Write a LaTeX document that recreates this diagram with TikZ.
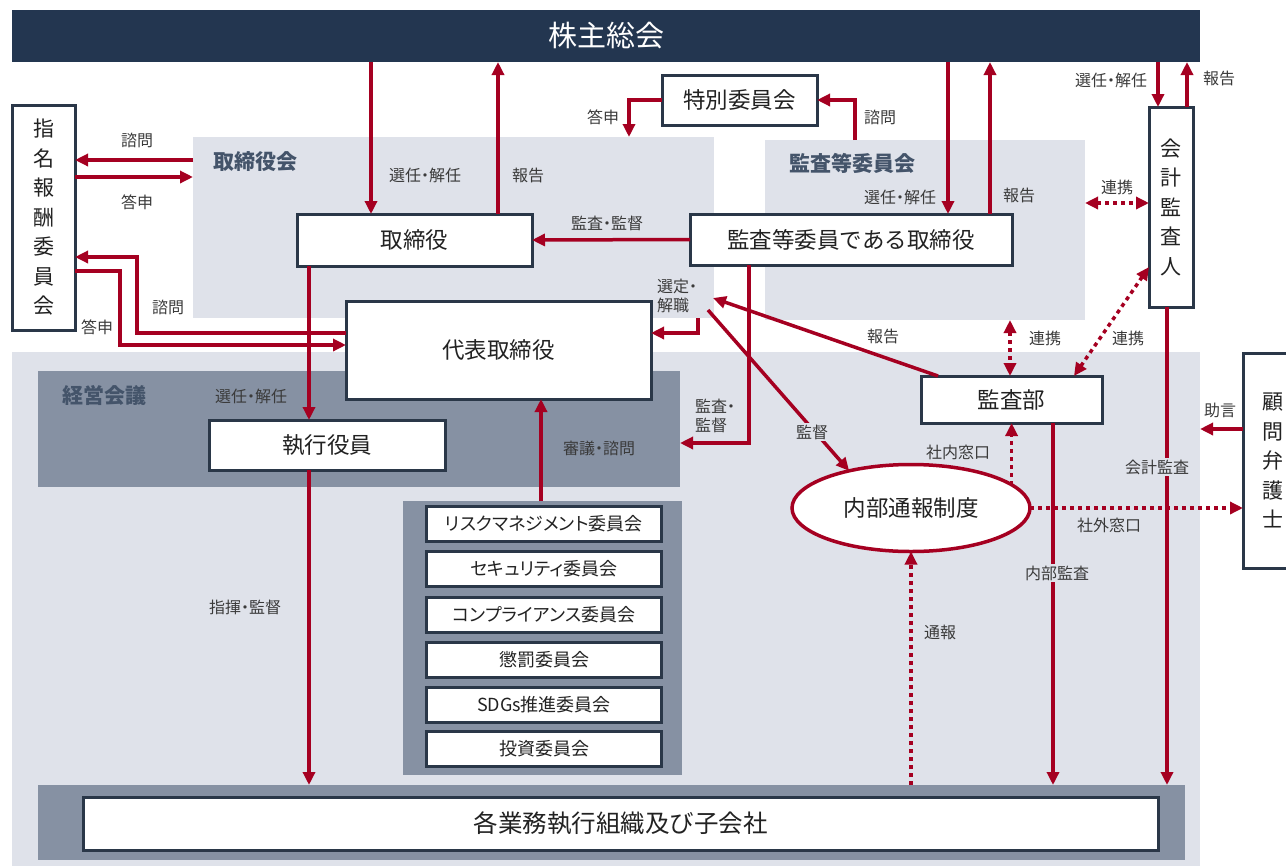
\documentclass[tikz,border=0pt]{standalone}
\usepackage{fontspec}
\setmainfont{Noto Sans CJK JP}
\newfontfamily\paltfont{Noto Sans CJK JP}[RawFeature=+palt]
\usetikzlibrary{arrows.meta,shapes.geometric}
\definecolor{navy}{HTML}{233650}
\definecolor{boxline}{HTML}{2A3748}
\definecolor{lightbg}{HTML}{DFE2EA}
\definecolor{midbg}{HTML}{8691A3}
\definecolor{titlec}{HTML}{44546A}
\definecolor{redc}{HTML}{A50021}
\definecolor{labc}{HTML}{3A3A3A}
\definecolor{txt}{HTML}{222222}
\begin{document}
\begin{tikzpicture}[x=1pt,y=-1pt,
 reg/.style={draw=none,inner sep=0pt,outer sep=0pt},
 box/.style={draw=boxline,line width=3pt,fill=white,inner sep=0pt,outer sep=0pt,text=txt,font=\fontsize{22.5}{26}\selectfont},
 vbox/.style={box,align=center,font=\fontsize{21}{29.5}\selectfont},
 cbox/.style={box,minimum width=235pt,minimum height=35pt,font=\paltfont\fontsize{18}{22}\selectfont},
 ttl/.style={text=titlec,font=\bfseries\fontsize{21}{24}\selectfont,inner sep=0pt},
 lab/.style={text=labc,font=\paltfont\fontsize{16}{19}\selectfont,inner sep=1pt},
 labf/.style={lab,fill=lightbg,inner sep=2pt},
 arr/.style={draw=redc,line width=3.5pt,-{Triangle[length=13pt,width=12pt]}},
 darr/.style={arr,dash pattern=on 4pt off 4pt},
 ddarr/.style={darr,{Triangle[length=13pt,width=12pt]}-{Triangle[length=13pt,width=12pt]}},
]
\useasboundingbox (0,0) rectangle (1286,868);
% regions
\node[reg,fill=lightbg,minimum width=1188pt,minimum height=514pt] (big) at (606,609) {};
\node[reg,fill=lightbg,minimum width=521pt,minimum height=181pt] (torikai) at (453.5,227.5) {};
\node[reg,fill=lightbg,minimum width=320pt,minimum height=180pt] (kansakai) at (925,230) {};
\node[reg,fill=midbg,minimum width=642pt,minimum height=116pt] (keiei) at (359,429) {};
\node[reg,fill=midbg,minimum width=279pt,minimum height=274pt] (cpanel) at (542.5,638) {};
\node[reg,fill=midbg,minimum width=1147pt,minimum height=75pt] (band) at (611.5,822.5) {};
\node[reg,fill=navy,minimum width=1188pt,minimum height=52pt,text=white,font=\fontsize{29}{33}\selectfont] (kabu) at (606,36) {株主総会};
% titles
\node[ttl] (t1) at (255,162) {取締役会};
\node[ttl] (t2) at (852,163) {監査等委員会};
\node[ttl] (t3) at (104,395) {経営会議};
% boxes
\node[box,minimum width=235pt,minimum height=52pt] (tori) at (414.5,240) {取締役};
\node[box,minimum width=322pt,minimum height=51pt] (kansatori) at (851,239.5) {監査等委員である取締役};
\node[box,minimum width=155pt,minimum height=50pt] (toku) at (739.5,100) {特別委員会};
\node[box,minimum width=305pt,minimum height=98pt] (daihyo) at (498.5,350) {代表取締役};
\node[box,minimum width=236pt,minimum height=50pt] (shikko) at (327,445) {執行役員};
\node[box,minimum width=181pt,minimum height=47pt] (kansabu) at (1011.5,399.5) {監査部};
\node[ellipse,draw=redc,line width=3.5pt,fill=white,minimum width=238pt,minimum height=87pt,inner sep=0pt,outer sep=0pt,text=txt,font=\fontsize{22.5}{26}\selectfont] (naibu) at (911,508) {内部通報制度};
\node[vbox,minimum width=63pt,minimum height=225pt] (shimei) at (43.5,217.5) {指\\名\\報\\酬\\委\\員\\会};
\node[vbox,minimum width=44pt,minimum height=200pt] (kaikei) at (1171,207) {会\\計\\監\\査\\人};
\node[vbox,minimum width=60pt,minimum height=215pt] (komon) at (1273,460.5) {顧\\問\\弁\\護\\士};
\node[cbox] (c1) at (544,524) {リスクマネジメント委員会};
\node[cbox] (c2) at (544,569) {セキュリティ委員会};
\node[cbox] (c3) at (544,615) {コンプライアンス委員会};
\node[cbox] (c4) at (544,660) {懲罰委員会};
\node[cbox] (c5) at (544,705) {SDGs推進委員会};
\node[cbox] (c6) at (544,749) {投資委員会};
\node[box,minimum width=1075pt,minimum height=53pt,font=\fontsize{24.5}{28}\selectfont] (kaku) at (620.5,823.5) {各業務執行組織及び子会社};
% coordinates
\coordinate (sentei) at (698,318);
\coordinate (kantoku0) at (708,310);
\coordinate (hokokuEnd) at (713,298);
% arrows
\draw[arr] (371,0 |- kabu.south) -- (371,0 |- tori.north);
\draw[arr] (498,0 |- tori.north) -- (498,0 |- kabu.south);
\draw[arr] (948,0 |- kabu.south) -- (948,0 |- kansatori.north);
\draw[arr] (990,0 |- kansatori.north) -- (990,0 |- kabu.south);
\draw[arr] (1158,0 |- kabu.south) -- (1158,0 |- kaikei.north);
\draw[arr] (1187,0 |- kaikei.north) -- (1187,0 |- kabu.south);
\draw[arr] (855,0 |- kansakai.north) |- (toku.east);
\draw[arr] (toku.west) -| (629,0 |- torikai.north);
\draw[arr] (torikai.west |- 0,160) -- (shimei.east |- 0,160);
\draw[arr] (shimei.east |- 0,177) -- (torikai.west |- 0,177);
\draw[arr] (daihyo.west |- 0,333) -| (137,257) -- (shimei.east |- 0,257);
\draw[arr] (shimei.east |- 0,271) -| (120,345) -- (daihyo.west |- 0,345);
\draw[arr] (kansatori.west) -- (tori.east);
\draw[arr] (sentei) |- (daihyo.east |- 0,333);
\draw[arr] (749,0 |- kansatori.south) |- (keiei.east |- 0,443);
\draw[arr] (kantoku0) -- (naibu.149);
\draw[arr] (938,0 |- kansabu.north) -- (hokokuEnd);
\draw[ddarr] (kansakai.east |- 0,203) -- (kaikei.west |- 0,203);
\draw[ddarr] (1010,0 |- kansakai.south) -- (1010,0 |- kansabu.north);
\draw[ddarr] (1074,0 |- kansabu.north) -- (kaikei.west |- 0,267);
\draw[arr] (1167,0 |- kaikei.south) -- (1167,0 |- band.north);
\draw[arr] (komon.west |- 0,429) -- (big.east |- 0,429);
\draw[darr] (naibu.east) -- (komon.west |- naibu.east);
\draw[darr] (naibu.13.6) -- (naibu.13.6 |- kansabu.south);
\draw[arr] (1053,0 |- kansabu.south) -- (1053,0 |- band.north);
\draw[darr] (911,0 |- band.north) -- (naibu.south);
\draw[arr] (309,0 |- tori.south) -- (309,0 |- shikko.north);
\draw[arr] (309,0 |- shikko.south) -- (309,0 |- band.north);
\draw[arr] (541,0 |- cpanel.north) -- (541,0 |- daihyo.south);
% labels
\node[lab] at (425,175) {選任・解任};
\node[lab] at (528,175) {報告};
\node[lab] at (900,197) {選任・解任};
\node[lab] at (1019,195) {報告};
\node[lab] at (1111,80) {選任・解任};
\node[lab] at (1219,78) {報告};
\node[lab] at (880,117) {諮問};
\node[lab] at (603,117) {答申};
\node[lab] at (137,140) {諮問};
\node[lab] at (137,202) {答申};
\node[lab] at (168,307) {諮問};
\node[lab] at (97,327) {答申};
\node[lab] at (607,223) {監査・監督};
\node[lab,align=left,anchor=west] at (656,296) {選定・\\解職};
\node[lab,align=left,anchor=west] at (694,416) {監査・\\監督};
\node[labf] at (812,432) {監督};
\node[lab] at (883,336) {報告};
\node[lab] at (1117,187) {連携};
\node[lab] at (1045,338) {連携};
\node[lab] at (1128,338) {連携};
\node[labf] at (1157,467) {会計監査};
\node[lab] at (1220,410) {助言};
\node[lab] at (1109,525) {社外窓口};
\node[lab] at (958,452) {社内窓口};
\node[labf] at (1057,573) {内部監査};
\node[lab] at (940,632) {通報};
\node[lab] at (251,396) {選任・解任};
\node[lab] at (245,607) {指揮・監督};
\node[lab] at (599,448) {審議・諮問};
\end{tikzpicture}
\end{document}
